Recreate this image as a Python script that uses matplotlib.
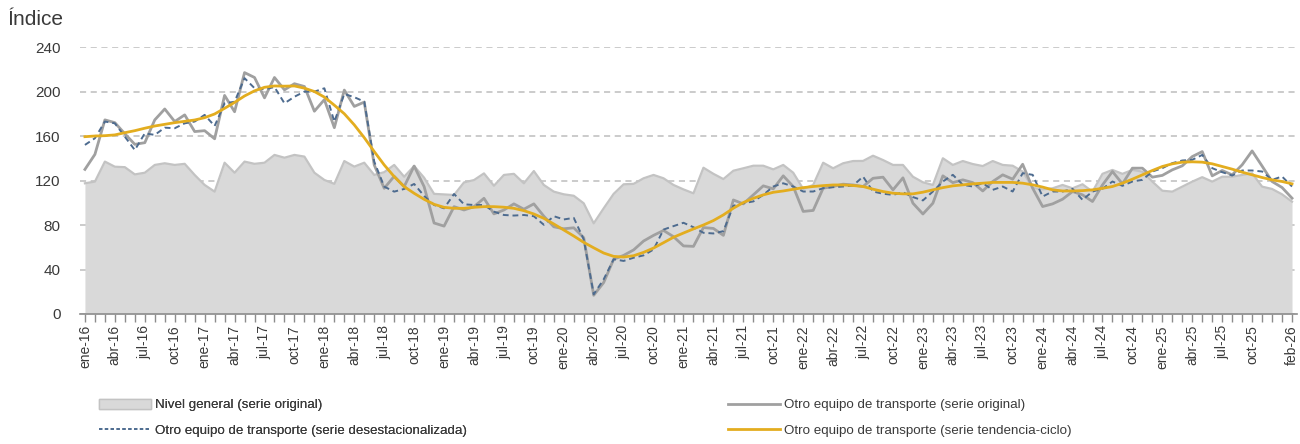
import numpy as np
import matplotlib.pyplot as plt
from matplotlib.patches import Patch
from matplotlib.lines import Line2D

# =========================
# DATA (monthly index, ene-16 .. feb-26)
# =========================
MESES = ["ene", "feb", "mar", "abr", "may", "jun",
         "jul", "ago", "sep", "oct", "nov", "dic"]

meses = [f"{MESES[m]}-{y % 100:02d}" for y in range(2016, 2027) for m in range(12)]
meses = meses[:122]

nivel_general = [
    117.5, 119, 137, 132.4, 132, 125.5, 127, 134, 135.5, 134, 135, 125,
    116, 110, 136, 127, 137, 135, 136, 143, 140.5, 143, 141.5, 127,
    120.5, 117, 137.5, 132.5, 136, 125, 127.5, 134, 123.4, 133, 122.5, 108,
    107.5, 107, 118.3, 120.4, 126.4, 115.3, 125, 126, 117.5, 128.5, 116, 110,
    107.6, 106.3, 99.5, 81.5, 95, 108, 116.6, 117, 122, 125, 122, 116,
    112, 108.5, 131.5, 126, 121.3, 128.8, 131, 133.3, 133.3, 130, 134, 127,
    112.4, 116, 136, 131, 135.5, 137.5, 137.6, 142.3, 138.4, 134, 134, 123.4,
    118.4, 116, 140, 134, 137.5, 134.8, 133, 137.5, 134, 133.3, 128, 113.5,
    112, 113, 116, 113, 116.6, 110, 126, 129.5, 126, 129.5, 128, 119,
    110.8, 110, 114.5, 119, 123, 119, 123.4, 123.4, 125, 126.5, 114.5, 112.4,
    107.6, 101,
]

otro_original = [
    130, 143.5, 174.5, 172, 162, 152.5, 154, 174.5, 184.3, 173, 179, 164,
    164.8, 157.5, 196.5, 181.8, 217, 212.6, 194.3, 212.6, 201.5, 207, 204.5, 182.3,
    192.7, 167.5, 201.3, 186.6, 190.5, 134, 113, 123.8, 114.5, 133, 114.5, 81.8,
    79, 96.5, 93.5, 96.5, 104, 90, 93.5, 99, 94.2, 99, 87.9, 78.4,
    76.6, 77.5, 68.6, 16.8, 28.3, 49.2, 52.7, 57.6, 65.6, 70.7, 75.1, 69.5,
    61.2, 60.8, 77.7, 76.9, 70.7, 102.5, 99, 107.1, 115.2, 112.5, 124.2, 114.6,
    92.2, 93.1, 113.1, 114.6, 116.7, 116, 114.6, 122, 123, 111.6, 122.4, 99.6,
    89.9, 99.6, 124.2, 118.1, 120.6, 118.1, 110.6, 119.1, 125.1, 121.2, 134.6, 113.1,
    96.6, 99, 103.2, 110.1, 107.1, 101.1, 116, 128.1, 117, 131.1, 131.1, 123,
    124.6, 129.6, 133.2, 141.5, 146, 124.2, 129, 125.1, 134.1, 146.6, 133, 119.1,
    113.7, 104.1,
]

otro_desest = [
    152, 158, 173, 171.4, 159.4, 147.4, 162.4, 161, 167.5, 167, 171.4, 173,
    179, 169, 189.4, 190.8, 212, 203, 202, 204, 189.4, 195.3, 199.9, 199.9,
    202.9, 172.9, 197.8, 194.9, 190.9, 136.9, 114.5, 110, 112.4, 116.9, 106.1, 98,
    95, 107.9, 98.6, 98, 98, 92, 89, 88.5, 89, 87.9, 80.2, 87.9,
    85, 86.4, 67.1, 17.7, 31.2, 49.2, 47.7, 50.6, 52.7, 58, 75.9, 79,
    82, 78, 73, 72.4, 74.5, 97.3, 99.6, 101.2, 107.1, 114.6, 117.5, 114.6,
    110.1, 110.1, 113.1, 114, 114.6, 115.5, 123.5, 110.1, 108.1, 107.1, 109.4, 105.1,
    102.1, 110.1, 119.1, 125.1, 116.1, 114.6, 117.6, 111.6, 114.6, 110.1, 126.6, 125.1,
    105.6, 110.1, 110.1, 112.5, 102.6, 110.1, 112.6, 119.1, 115.2, 119.1, 120.6, 128.1,
    131.1, 135.6, 138, 138.6, 143, 131.1, 127.5, 124.5, 129, 129, 128.1, 120.6,
    123.6, 114.6,
]

otro_tendencia = [
    159.4, 160, 160.3, 161, 163, 164.8, 167, 169, 170.5, 172, 173.2, 174.4,
    176.5, 179.8, 184.9, 190.2, 196, 200.6, 203.8, 205, 204.8, 205, 203, 200,
    195, 187.7, 180, 170, 158.5, 146, 134, 123.5, 114.5, 108.5, 103.1, 98.6,
    95.9, 95, 95, 95.9, 96.5, 96.5, 96, 95, 92.9, 89.9, 86, 80.9,
    75.5, 70.1, 64.4, 59.5, 54.8, 51.8, 51.2, 52.4, 55.4, 59.3, 64.1, 69,
    72.8, 76.5, 80, 84, 89.1, 95.1, 100.2, 104, 107.1, 109.4, 110.6, 112.1,
    113.6, 114.6, 115.4, 116, 116, 115.5, 114.6, 112.2, 110.1, 108.6, 108, 108,
    109.5, 111.6, 113.6, 115.2, 116.1, 117, 117.6, 118.3, 118.3, 118.3, 117.6, 116.1,
    114.1, 111.6, 110.6, 110.6, 110.9, 111.6, 113, 114.6, 117.6, 121.2, 125.1, 129,
    132.6, 135, 136.5, 136.8, 136.5, 135, 132.6, 130.2, 127.5, 125.1, 122.7, 120.6,
    119.1, 117,
]

# labelled months: every quarter plus the last one
label_idx = list(range(0, 120, 3)) + [121]

# =========================
# STYLE
# =========================
plt.rcParams["font.family"] = ["Liberation Sans", "DejaVu Sans"]
TXT = "#3a3a3a"
C_AREA = "#d9d9d9"
C_AREA_EDGE = "#c3c3c3"
C_GRAY = "#a0a0a0"
C_BLUE = "#4d6b8f"
C_GOLD = "#e3ad1f"

x = np.arange(len(meses))

fig = plt.figure(figsize=(13, 4.44), dpi=100)
ax = fig.add_axes([0.0615, 0.2928, 0.9362, 0.6013])

# =========================
# SERIES
# =========================
ax.fill_between(x, nivel_general, 0, color=C_AREA, lw=0, zorder=1)
ax.plot(x, nivel_general, color=C_AREA_EDGE, lw=1.6, zorder=2)
ax.plot(x, otro_original, color=C_GRAY, lw=2.0, zorder=3)
ax.plot(x, otro_desest, color=C_BLUE, lw=1.4, ls=(0, (3, 2)), zorder=4)
ax.plot(x, otro_tendencia, color=C_GOLD, lw=2.0, zorder=5)

# =========================
# AXES
# =========================
ax.set_xlim(-0.5, 121.5)
ax.set_ylim(0, 240)
ax.set_yticks(np.arange(0, 241, 40))
ax.yaxis.grid(True, color="#bdbdbd", ls=(0, (4, 3)), lw=1.1)
ax.set_axisbelow(True)

for s in ["top", "right", "left"]:
    ax.spines[s].set_visible(False)
ax.spines["bottom"].set_color("#8c8c8c")
ax.spines["bottom"].set_linewidth(1.2)
ax.spines["bottom"].set_zorder(6)

ax.set_xticks(x)
ax.set_xticklabels([meses[i] if i in label_idx else "" for i in x],
                   rotation=90, fontsize=10, color=TXT)
ax.tick_params(axis="x", length=6, width=1, color="#8c8c8c", pad=2)
ax.tick_params(axis="y", length=0, labelsize=11, labelcolor=TXT, pad=14)

fig.text(0.006, 0.957, "Índice", fontsize=15, color=TXT, va="center", ha="left")

# =========================
# LEGEND
# =========================
h_area = Patch(facecolor=C_AREA, edgecolor=C_AREA_EDGE, lw=1)
h_blue = Line2D([], [], color=C_BLUE, lw=1.2, ls=(0, (2, 1.5)))
h_gray = Line2D([], [], color=C_GRAY, lw=2)
h_gold = Line2D([], [], color=C_GOLD, lw=2)

leg_kw = dict(loc="upper left", frameon=False, fontsize=9.6,
              handlelength=3.9, handleheight=0.8, handletextpad=0.3,
              labelspacing=0.95, labelcolor=TXT, borderaxespad=0)

leg1 = fig.legend([h_area, h_blue],
                  ["Nivel general (serie original)",
                   "Otro equipo de transporte (serie desestacionalizada)"],
                  bbox_to_anchor=(0.072, 0.114), **leg_kw)
leg2 = fig.legend([h_gray, h_gold],
                  ["Otro equipo de transporte (serie original)",
                   "Otro equipo de transporte (serie tendencia-ciclo)"],
                  bbox_to_anchor=(0.556, 0.114), **leg_kw)
fig.add_artist(leg1)

fig.savefig("out.png", dpi=100)
plt.close(fig)
